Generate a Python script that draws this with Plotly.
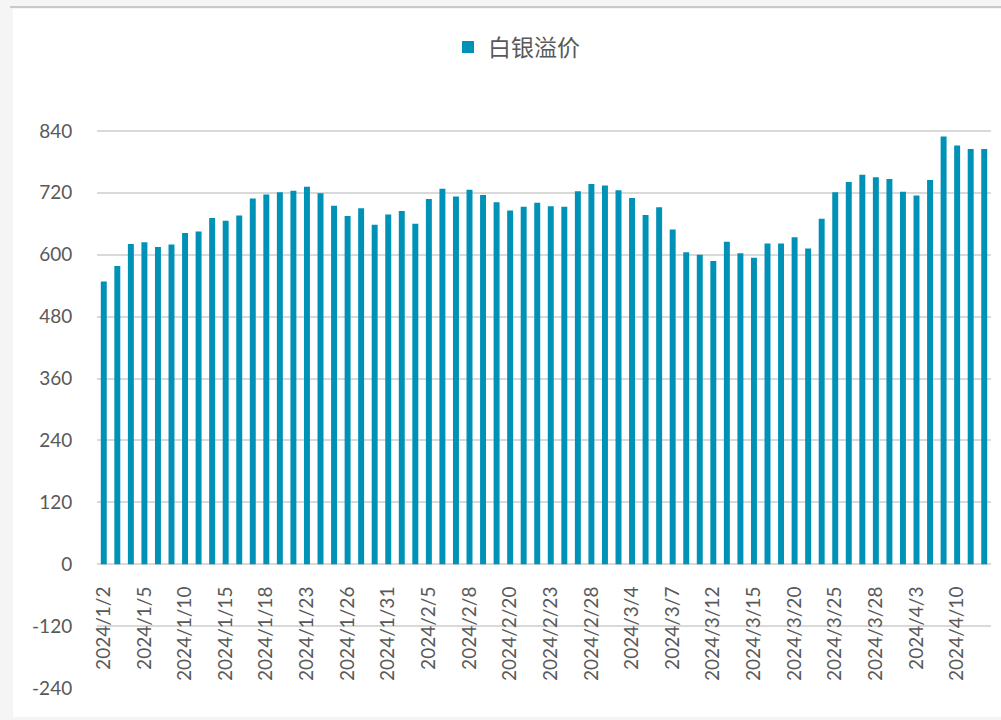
import plotly.graph_objects as go

# Trading days shown on the category axis
dates = [
    "2024/1/2", "2024/1/3", "2024/1/4", "2024/1/5", "2024/1/8", "2024/1/9",
    "2024/1/10", "2024/1/11", "2024/1/12", "2024/1/15", "2024/1/16", "2024/1/17",
    "2024/1/18", "2024/1/19", "2024/1/22", "2024/1/23", "2024/1/24", "2024/1/25",
    "2024/1/26", "2024/1/29", "2024/1/30", "2024/1/31", "2024/2/1", "2024/2/2",
    "2024/2/5", "2024/2/6", "2024/2/7", "2024/2/8", "2024/2/9", "2024/2/19",
    "2024/2/20", "2024/2/21", "2024/2/22", "2024/2/23", "2024/2/26", "2024/2/27",
    "2024/2/28", "2024/2/29", "2024/3/1", "2024/3/4", "2024/3/5", "2024/3/6",
    "2024/3/7", "2024/3/8", "2024/3/11", "2024/3/12", "2024/3/13", "2024/3/14",
    "2024/3/15", "2024/3/18", "2024/3/19", "2024/3/20", "2024/3/21", "2024/3/22",
    "2024/3/25", "2024/3/26", "2024/3/27", "2024/3/28", "2024/4/1", "2024/4/2",
    "2024/4/3", "2024/4/8", "2024/4/9", "2024/4/10", "2024/4/11", "2024/4/12",
]

# Silver premium values
premium = [
    548, 578, 621, 624, 615, 620, 642, 645, 671, 666, 676, 709,
    717, 721, 724, 732, 719, 695, 675, 690, 658, 678, 685, 660,
    708, 728, 713, 726, 716, 702, 686, 693, 701, 694, 693, 723,
    737, 734, 725, 710, 677, 692, 649, 605, 600, 588, 625, 603,
    594, 622, 622, 634, 612, 670, 721, 741, 755, 750, 747, 722,
    715, 745, 829, 812, 805, 805,
]

series_name = "白银溢价"
y_ticks = [-240, -120, 0, 120, 240, 360, 480, 600, 720, 840]
y_ticktext = [str(v) for v in y_ticks]  # plain hyphen for negatives

# every third day gets a label
x_tickvals = dates[::3]

bar_color = "#0091b6"
text_color = "#595959"
grid_color = "#d9d9d9"

fig = go.Figure()
fig.add_trace(go.Bar(
    x=dates,
    y=premium,
    name=series_name,
    marker=dict(color=bar_color, line=dict(width=0)),
    showlegend=True,
))

# layout pixel geometry (plot area 97..991 x 100..688)
L, R, T, B = 97, 10, 100, 32
W, H = 1001, 720
pw, ph = W - L - R, H - T - B


def px_x(px):
    return (px - L) / pw


def px_y(py):
    return (H - B - py) / ph


# white chart card on grey page, thin grey line above
shapes = [
    dict(type="rect", xref="paper", yref="paper",
         x0=px_x(13), x1=px_x(1002), y0=px_y(717), y1=px_y(9),
         fillcolor="white", line=dict(width=0), layer="below"),
    dict(type="line", xref="paper", yref="paper",
         x0=px_x(10), x1=px_x(1002), y0=px_y(7), y1=px_y(7),
         line=dict(color="#c8c8c8", width=2), layer="below"),
]

zero_pos = px_y(564)

fig.update_layout(
    width=W,
    height=H,
    margin=dict(l=L, r=R, t=T, b=B),
    paper_bgcolor="#f5f5f5",
    plot_bgcolor="rgba(0,0,0,0)",
    bargap=0.56,
    shapes=shapes,
    font=dict(family="Lato, 'Noto Sans CJK SC', sans-serif", color=text_color, size=19),
    legend=dict(
        orientation="h",
        x=px_x(448), xanchor="left",
        y=px_y(47), yanchor="middle",
        itemwidth=30,
        font=dict(family="'Noto Sans CJK SC', sans-serif", size=23, color=text_color),
        bgcolor="rgba(0,0,0,0)",
    ),
    xaxis=dict(
        type="category",
        tickmode="array",
        tickvals=x_tickvals,
        ticktext=x_tickvals,
        tickangle=-90,
        anchor="free",
        position=zero_pos,
        showgrid=False,
        showline=False,
        zeroline=False,
        ticks="outside",
        ticklen=14,
        tickcolor="rgba(0,0,0,0)",
        tickfont=dict(size=19, color=text_color),
    ),
    yaxis=dict(
        range=[-240, 900],
        tickmode="array",
        tickvals=y_ticks,
        ticktext=y_ticktext,
        showgrid=True,
        gridcolor=grid_color,
        gridwidth=1.5,
        zeroline=True,
        zerolinecolor=grid_color,
        zerolinewidth=1.5,
        showline=False,
        ticks="outside",
        ticklen=20,
        tickcolor="rgba(0,0,0,0)",
        tickfont=dict(size=19, color=text_color),
    ),
)

# drop the default page margin so the figure sits at the window's corner
fig.write_html(
    "out.html",
    config={"displayModeBar": False},
    post_script="document.body.style.margin='0';",
)
